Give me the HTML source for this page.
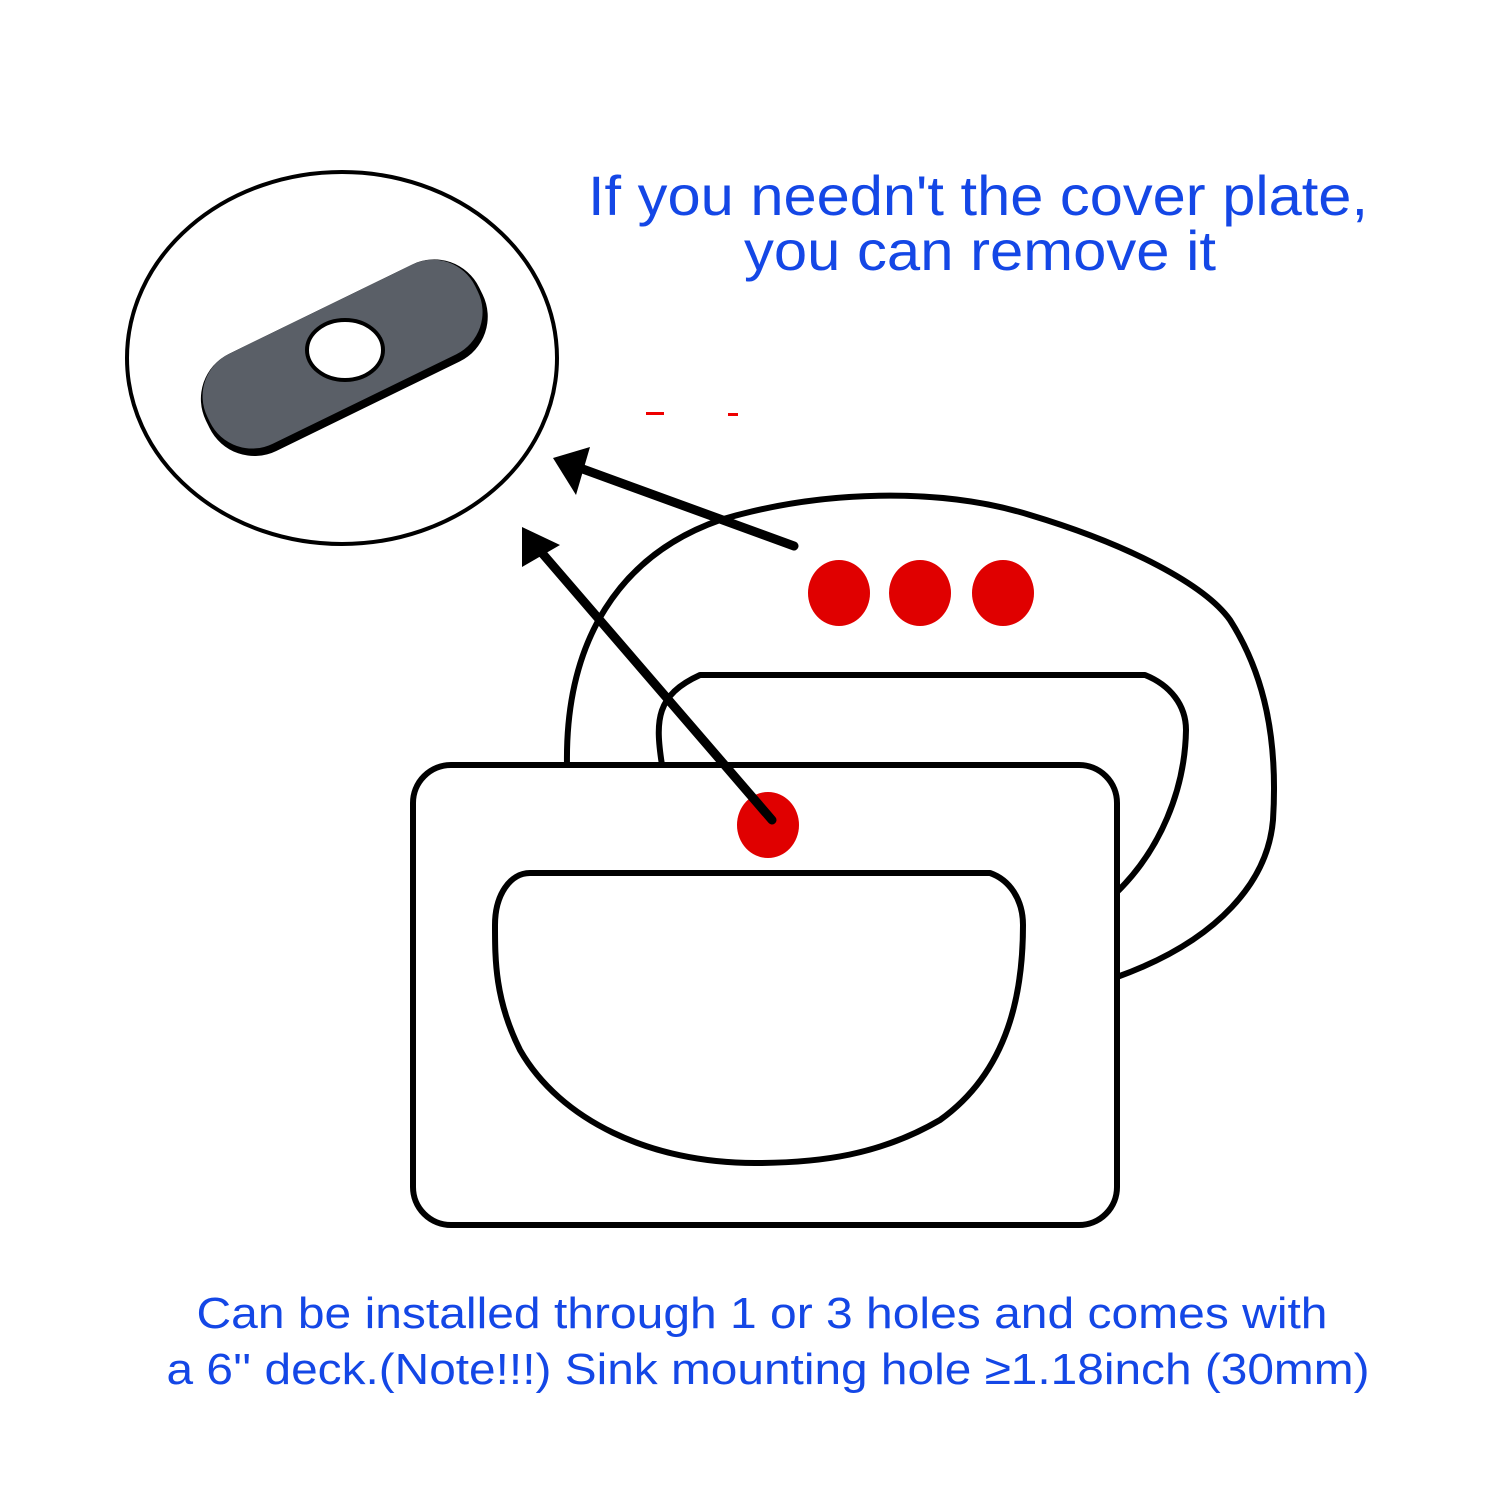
<!DOCTYPE html>
<html><head><meta charset="utf-8"><style>html,body{margin:0;padding:0;background:#fff}svg{display:block}</style></head>
<body>
<svg width="1500" height="1500" viewBox="0 0 1500 1500" xmlns="http://www.w3.org/2000/svg">
<rect width="1500" height="1500" fill="#fff"/>
<g font-family="Liberation Sans, Arial, sans-serif" fill="#1447e6">
<text x="978" y="215" font-size="56" text-anchor="middle" textLength="780" lengthAdjust="spacingAndGlyphs">If you needn't the cover plate,</text>
<text x="980" y="270" font-size="56" text-anchor="middle" textLength="472" lengthAdjust="spacingAndGlyphs">you can remove it</text>
<text x="762" y="1328" font-size="44" text-anchor="middle" textLength="1131" lengthAdjust="spacingAndGlyphs">Can be installed through 1 or 3 holes and comes with</text>
<text x="768" y="1384" font-size="44" text-anchor="middle" textLength="1203" lengthAdjust="spacingAndGlyphs">a 6'' deck.(Note!!!) Sink mounting hole ≥1.18inch (30mm)</text>
</g>
<ellipse cx="342" cy="358" rx="215" ry="186" fill="#fff" stroke="#000" stroke-width="4"/>
<g transform="translate(343,355) rotate(-26)">
<rect x="-152" y="-51" width="304" height="108" rx="50" fill="#000"/>
<rect x="-149" y="-51" width="298" height="100" rx="47" fill="#5a5f67"/>
</g>
<ellipse cx="345" cy="350" rx="38" ry="30" fill="#fff" stroke="#000" stroke-width="4"/>
<rect x="646" y="412" width="18" height="3" fill="#e00"/>
<rect x="728" y="413" width="10" height="3" fill="#e00"/>
<g fill="none" stroke="#000" stroke-width="6" stroke-linejoin="round" stroke-linecap="round">
<path d="M567,765 C565,640 620,555 720,520 C820,490 940,487 1030,515 C1130,545 1205,585 1230,620 C1265,675 1278,740 1273,820 C1268,880 1220,940 1117,977"/>
<path d="M662,765 C655,720 656,695 700,675 L1145,675 C1170,685 1186,705 1186,730 C1185,790 1160,850 1117,892"/>
<rect x="413" y="765" width="704" height="460" rx="38" fill="#fff"/>
<path d="M530,873 L990,873 C1010,880 1023,900 1023,925 C1023,990 1010,1070 940,1120 C880,1155 820,1163 755,1163 C650,1163 560,1120 520,1050 C495,1000 495,960 495,925 C495,895 510,873 530,873 Z" fill="#fff"/>
</g>
<g fill="#e00000">
<ellipse cx="839" cy="593" rx="31" ry="33"/>
<ellipse cx="920" cy="593" rx="31" ry="33"/>
<ellipse cx="1003" cy="593" rx="31" ry="33"/>
<ellipse cx="768" cy="825" rx="31" ry="33"/>
</g>
<g stroke="#000" stroke-width="9" stroke-linecap="round">
<line x1="794" y1="546" x2="580" y2="468"/>
<line x1="772" y1="820" x2="542" y2="553"/>
</g>
<polygon points="553,458 590,447 576,495" fill="#000"/>
<polygon points="522,527 560,545 522,567" fill="#000"/>
</svg>
</body></html>
